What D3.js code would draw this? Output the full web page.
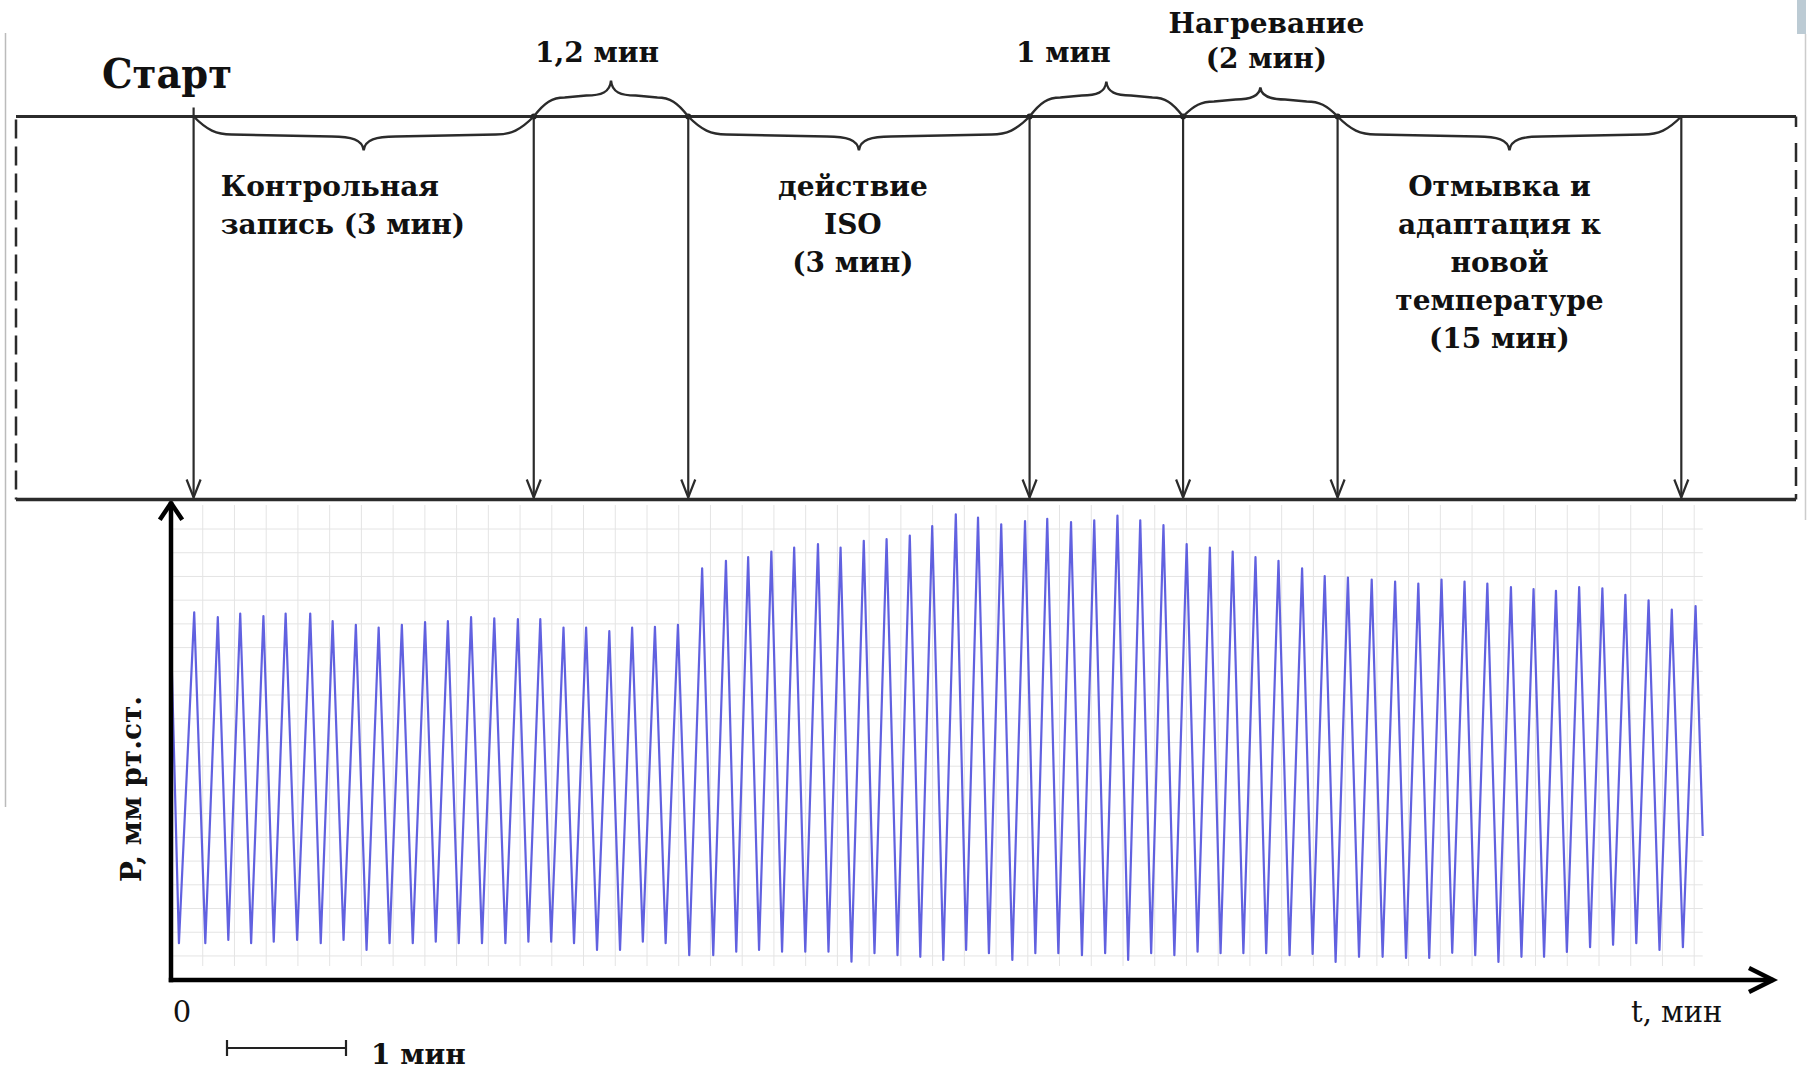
<!DOCTYPE html>
<html>
<head>
<meta charset="utf-8">
<script src="https://cdnjs.cloudflare.com/ajax/libs/d3/7.8.5/d3.min.js"></script>
<style>
    html, body { margin: 0; padding: 0; background: #fff; }
    svg { display: block; }
    text { font-family: "DejaVu Serif", serif; fill: #111; }
</style>
</head>
<body>
<svg id="chart" width="1808" height="1070"></svg>
<script>
// recording: times in seconds, pressure in relative units
const peakTimes = [11.7, 23.6, 34.9, 46.6, 57.8, 70.2, 81.5, 93.2, 104.7, 116.4,
    128.1, 139.6, 151.3, 163.0, 174.9, 186.2, 197.9, 209.3, 221.0, 232.5,
    244.0, 255.6, 267.8, 279.8, 291.0, 302.7, 314.2, 326.2, 337.6, 349.3,
    360.8, 372.5, 383.8, 395.7, 406.9, 418.6, 430.6, 441.8, 453.8, 465.5,
    477.2, 488.7, 500.4, 512.1, 523.8, 535.3, 546.8, 558.4, 570.3, 581.7,
    593.4, 605.4, 617.2, 628.9, 640.6, 652.2, 663.7, 675.6, 687.0, 698.3,
    710.0, 721.7, 733.3, 745.0, 756.7, 768.7];
const peakValues = [91.9, 90.7, 91.6, 91.0, 91.6, 91.6, 89.7, 88.8, 88.1, 88.8,
    89.5, 89.7, 90.7, 90.4, 90.2, 90.2, 88.1, 88.1, 87.2, 88.1,
    88.3, 88.8, 102.9, 104.8, 105.7, 107.1, 108.1, 109.0, 108.1, 109.8,
    110.2, 111.1, 113.5, 116.4, 115.6, 113.9, 114.7, 115.3, 114.5, 114.9,
    116.1, 114.9, 113.7, 109.0, 108.1, 107.1, 105.7, 104.8, 102.9, 101.0,
    100.6, 100.1, 99.6, 99.1, 100.1, 99.6, 99.1, 98.2, 97.7, 97.3,
    98.2, 97.9, 96.3, 94.9, 92.6, 93.5];
const troughTimes = [4.0, 17.3, 28.9, 40.4, 51.8, 63.6, 75.5, 87.0, 98.6, 110.2,
    121.9, 133.5, 145.1, 156.8, 168.6, 180.2, 191.7, 203.2, 214.8, 226.4,
    237.9, 249.4, 261.3, 273.4, 285.0, 296.5, 308.1, 319.8, 331.5, 343.1,
    354.7, 366.3, 377.8, 389.4, 400.9, 412.4, 424.2, 435.8, 447.4, 459.3,
    471.0, 482.6, 494.2, 505.9, 517.6, 529.2, 540.7, 552.2, 564.0, 575.6,
    587.2, 599.0, 610.9, 622.7, 634.4, 646.0, 657.6, 669.3, 680.9, 692.3,
    703.8, 715.5, 727.1, 738.8, 750.5, 762.3];
const troughValues = [9.2, 9.2, 10.0, 9.2, 9.6, 10.0, 9.2, 10.0, 7.5, 9.2,
    9.2, 9.6, 9.2, 9.2, 9.2, 9.6, 9.6, 9.2, 7.5, 7.5,
    9.6, 9.2, 6.2, 6.2, 7.1, 7.5, 7.1, 7.1, 7.1, 4.6,
    6.7, 6.2, 5.8, 5.0, 7.5, 6.7, 5.0, 6.7, 6.7, 6.2,
    6.7, 5.0, 6.7, 6.2, 7.1, 6.7, 6.7, 6.7, 6.2, 6.5,
    4.5, 5.8, 5.8, 5.5, 5.5, 6.8, 6.2, 4.5, 5.8, 5.8,
    7.0, 8.2, 8.8, 9.2, 7.5, 8.2];
const traceStart = { t: 0, v: 86 };
const traceEnd = { t: 772.3, v: 36 };

// protocol
const markerTimes = [11.4, 182.9, 260.8, 432.9, 510.3, 588.2, 761.5];
const braceSides = ['below', 'above', 'below', 'above', 'above', 'below'];
const stageLabels = [
    ['Контрольная', 'запись (3 мин)'],
    ['1,2 мин'],
    ['действие', 'ISO', '(3 мин)'],
    ['1 мин'],
    ['Нагревание', '(2 мин)'],
    ['Отмывка и', 'адаптация к', 'новой', 'температуре', '(15 мин)'],
];
const startLabel = 'Старт';
const yTitle = 'P, мм рт.ст.';
const xTitle = 't, мин';
const originLabel = '0';
const scaleBarLabel = '1 мин';
const scaleBarSeconds = 60;

// layout
const boxTop = 116.5, boxBottom = 499.5, boxLeft = 16, boxRight = 1796;
const braceTip = [34, 36, 34, 35, 29, 34];
const labelShift = [-143, -14, -6, -43, 6, -10];
const lineGap = 38;

const svg = d3.select('#chart');

const x = d3.scaleLinear().domain([0, 60]).range([171, 290]);
const y = d3.scaleLinear().domain([0, 120]).range([980, 500]);

// recorder paper grid
const grid = svg.append('g').attr('stroke', '#e4e4e4').attr('stroke-width', 1);
grid.selectAll('.gh').data(d3.range(112.75, 5, -5.93)).enter().append('line')
    .attr('x1', x(0)).attr('x2', x(traceEnd.t))
    .attr('y1', d => y(d)).attr('y2', d => y(d));
grid.selectAll('.gv').data(d3.range(16, 770, 16)).enter().append('line')
    .attr('x1', d => x(d)).attr('x2', d => x(d))
    .attr('y1', 505).attr('y2', 966);

// pressure trace
const points = [traceStart];
peakTimes.forEach((t, i) => {
    points.push({ t: troughTimes[i], v: troughValues[i] });
    points.push({ t: t, v: peakValues[i] });
});
points.push(traceEnd);

const line = d3.line().x(d => x(d.t)).y(d => y(d.v));
svg.append('path')
    .datum(points)
    .attr('d', line)
    .attr('fill', 'none')
    .attr('stroke', '#4b4bdc')
    .attr('stroke-opacity', 0.88)
    .attr('stroke-width', 2.2)
    .attr('stroke-linejoin', 'round');

// axes with open arrow heads
const axes = svg.append('g').attr('stroke', '#000').attr('stroke-width', 4.5)
    .attr('fill', 'none').attr('stroke-linecap', 'square');
axes.append('line').attr('x1', x(0)).attr('y1', y(0)).attr('x2', x(0)).attr('y2', 504);
axes.append('path').attr('d', `M${x(0) - 10},518 L${x(0)},503 L${x(0) + 10},518`);
axes.append('line').attr('x1', x(0)).attr('y1', y(0)).attr('x2', 1771).attr('y2', y(0));
axes.append('path').attr('d', `M1751,${y(0) - 11} L1773,${y(0)} L1751,${y(0) + 11}`);

// protocol box
const box = svg.append('g').attr('stroke', '#2b2b2b').attr('fill', 'none');
box.append('line').attr('x1', boxLeft).attr('x2', boxRight)
    .attr('y1', boxTop).attr('y2', boxTop).attr('stroke-width', 3);
box.append('line').attr('x1', boxLeft).attr('x2', boxRight)
    .attr('y1', boxBottom).attr('y2', boxBottom).attr('stroke-width', 3.5);
box.append('line').attr('x1', boxLeft).attr('x2', boxLeft)
    .attr('y1', boxTop + 3).attr('y2', boxBottom)
    .attr('stroke-width', 2.5).attr('stroke-dasharray', '19 8');
box.append('line').attr('x1', boxRight).attr('x2', boxRight)
    .attr('y1', boxTop).attr('y2', 127).attr('stroke-width', 2.5);
box.append('line').attr('x1', boxRight).attr('x2', boxRight)
    .attr('y1', 143).attr('y2', boxBottom)
    .attr('stroke-width', 2.5).attr('stroke-dasharray', '19 8');

// arrows
const arrows = svg.append('g').attr('stroke', '#2b2b2b').attr('stroke-width', 2.2).attr('fill', 'none');
markerTimes.forEach((t, i) => {
    const xm = x(t);
    arrows.append('line')
        .attr('x1', xm).attr('x2', xm)
        .attr('y1', i === 0 ? boxTop - 9 : boxTop).attr('y2', boxBottom - 2);
    arrows.append('path')
        .attr('d', `M${xm - 7},${boxBottom - 20} L${xm},${boxBottom - 2} L${xm + 7},${boxBottom - 20}`);
});
svg.selectAll('.joint').data(markerTimes.slice(1, 6)).enter().append('circle')
    .attr('cx', d => x(d)).attr('cy', boxTop).attr('r', 3).attr('fill', '#222');

// braces
function bracePath(xa, xb, y0, s, b, D) {
    const L = xb - xa;
    const xm = (xa + xb) / 2;
    const r = Math.min(0.2 * L, 38);
    const tr = Math.min(0.16 * L, 32);
    const p = d3.path();
    p.moveTo(xa, y0);
    p.bezierCurveTo(xa + r * 0.35, y0 + s * b * 0.75, xa + r * 0.6, y0 + s * b, xa + r, y0 + s * b);
    p.lineTo(xm - tr, y0 + s * (b + 2));
    p.bezierCurveTo(xm - tr * 0.4, y0 + s * (b + 2), xm - 1, y0 + s * (b + 5), xm, y0 + s * D);
    p.bezierCurveTo(xm + 1, y0 + s * (b + 5), xm + tr * 0.4, y0 + s * (b + 2), xm + tr, y0 + s * (b + 2));
    p.lineTo(xb - r, y0 + s * b);
    p.bezierCurveTo(xb - r * 0.6, y0 + s * b, xb - r * 0.35, y0 + s * b * 0.75, xb, y0);
    return p.toString();
}

const braces = svg.append('g').attr('stroke', '#2b2b2b').attr('stroke-width', 2.4).attr('fill', 'none');
braceSides.forEach((side, i) => {
    const s = side === 'below' ? 1 : -1;
    const D = braceTip[i];
    const b = Math.round(D * 0.53);
    braces.append('path')
        .attr('d', bracePath(x(markerTimes[i]), x(markerTimes[i + 1]), boxTop, s, b, D));
});

// stage labels
const labels = svg.append('g').attr('font-weight', 'bold').attr('font-size', 28);
stageLabels.forEach((lines, i) => {
    const xm = (x(markerTimes[i]) + x(markerTimes[i + 1])) / 2 + labelShift[i];
    const anchor = i === 0 ? 'start' : 'middle';
    let y0;
    if (braceSides[i] === 'below') {
        y0 = 196;
    } else {
        y0 = 62 - (lines.length - 1) * 35 + (i === 4 ? 6 : 0);
    }
    const gap = braceSides[i] === 'below' ? lineGap : 35;
    const t = labels.append('text').attr('text-anchor', anchor);
    lines.forEach((s, k) => {
        t.append('tspan').attr('x', xm).attr('y', y0 + k * gap).text(s);
    });
});

svg.append('text')
    .attr('x', 102).attr('y', 88)
    .attr('font-weight', 'bold').attr('font-size', 41)
    .attr('textLength', 130).attr('lengthAdjust', 'spacingAndGlyphs')
    .text(startLabel);

// axis texts
svg.append('text')
    .attr('transform', 'translate(141,789) rotate(-90)')
    .attr('text-anchor', 'middle')
    .attr('font-weight', 'bold').attr('font-size', 28)
    .text(yTitle);
svg.append('text')
    .attr('x', x(0) + 11).attr('y', 1022)
    .attr('text-anchor', 'middle').attr('font-size', 29)
    .text(originLabel);
svg.append('text')
    .attr('x', 1631).attr('y', 1022)
    .attr('font-size', 29)
    .text(xTitle);

// scale bar
const barX = 227, barY = 1048;
const barLen = x(scaleBarSeconds) - x(0);
const bar = svg.append('g').attr('stroke', '#222').attr('stroke-width', 2.2);
bar.append('line').attr('x1', barX).attr('x2', barX + barLen).attr('y1', barY).attr('y2', barY);
bar.append('line').attr('x1', barX).attr('x2', barX).attr('y1', barY - 8).attr('y2', barY + 8);
bar.append('line').attr('x1', barX + barLen).attr('x2', barX + barLen).attr('y1', barY - 8).attr('y2', barY + 8);
svg.append('text')
    .attr('x', 371).attr('y', 1064)
    .attr('font-weight', 'bold').attr('font-size', 28)
    .text(scaleBarLabel);

// scan edges
svg.append('line').attr('x1', 5.5).attr('x2', 5.5).attr('y1', 33).attr('y2', 807)
    .attr('stroke', '#bbb').attr('stroke-width', 1.5);
svg.append('rect').attr('x', 1797).attr('y', 0).attr('width', 9).attr('height', 34)
    .attr('fill', '#bccbd4');
svg.append('line').attr('x1', 1805.5).attr('x2', 1805.5).attr('y1', 34).attr('y2', 520)
    .attr('stroke', '#ccc').attr('stroke-width', 1.5);
</script>
</body>
</html>
